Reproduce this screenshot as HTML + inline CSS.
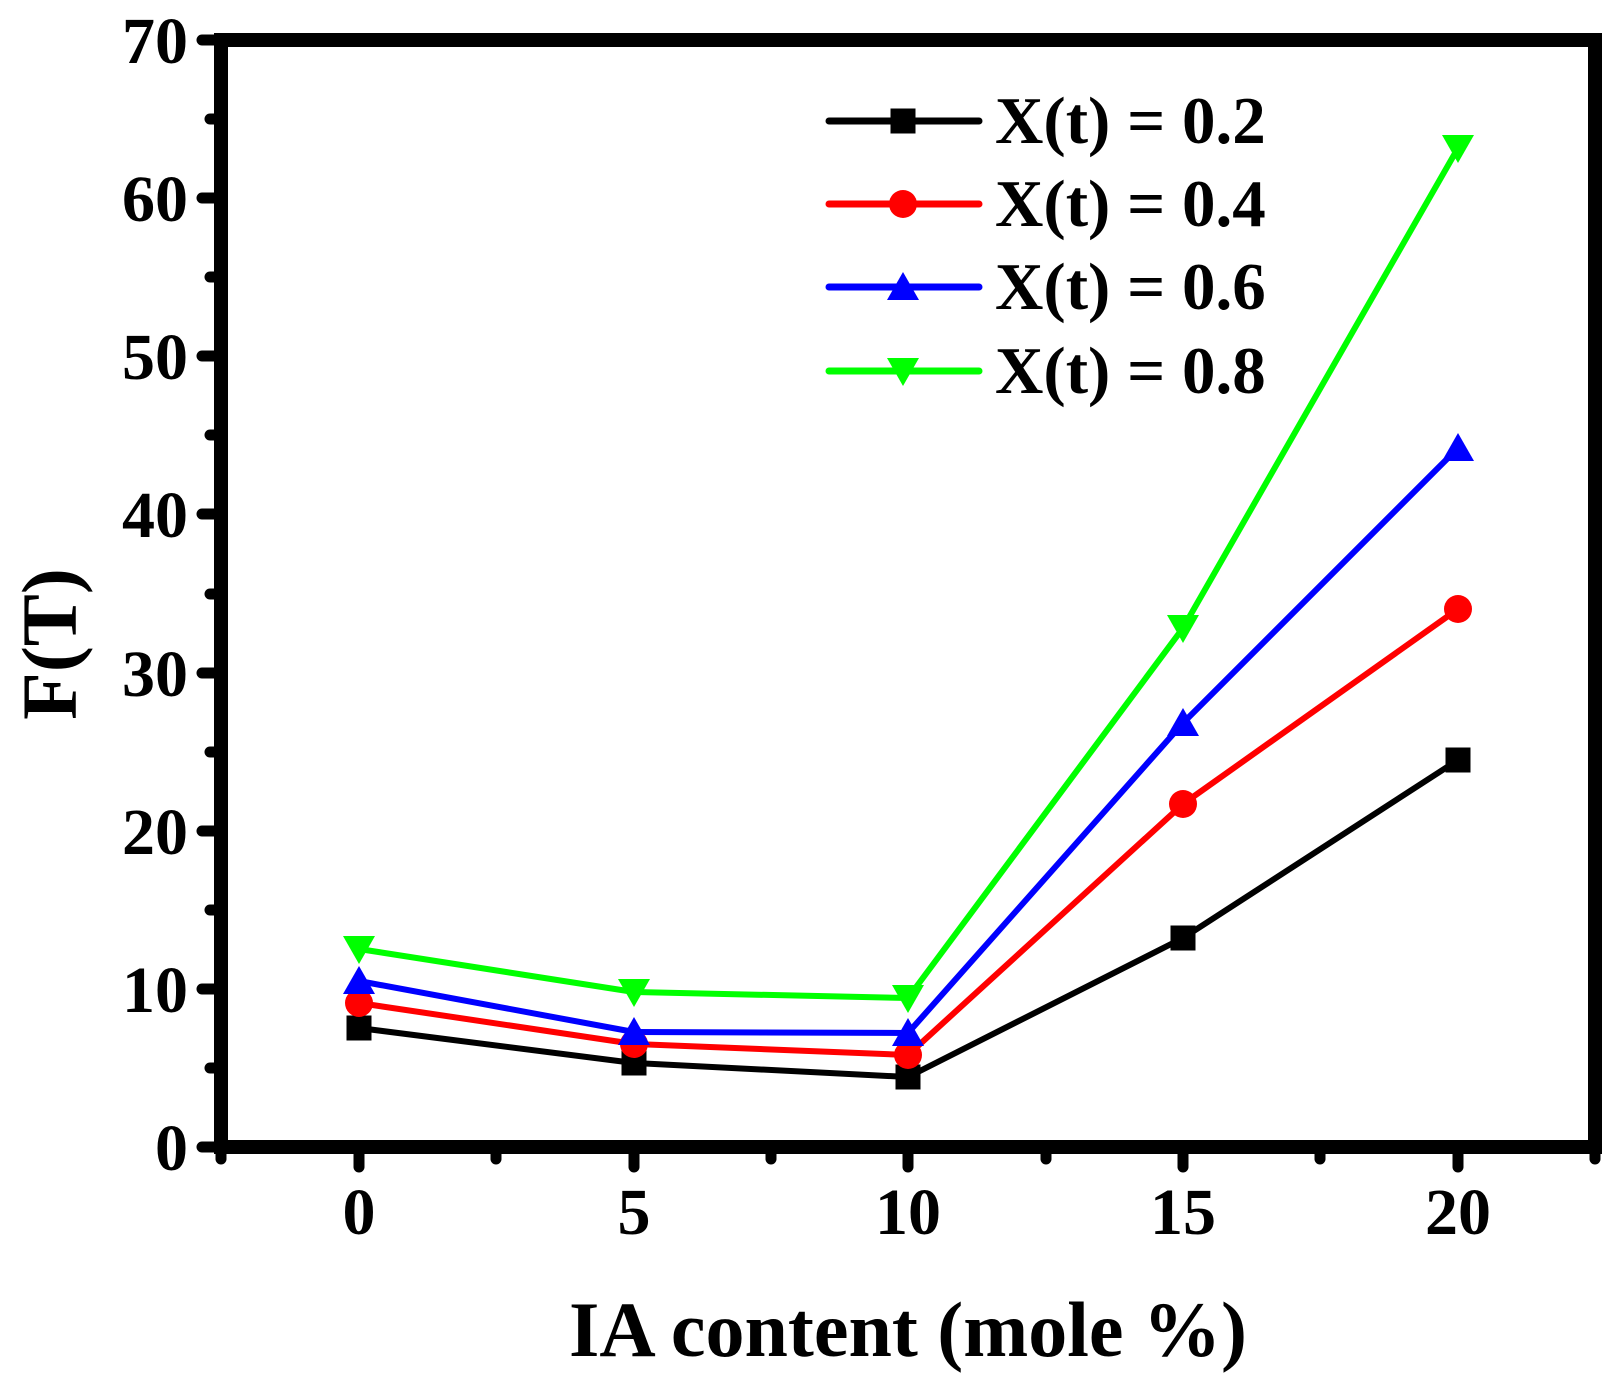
<!DOCTYPE html>
<html><head><meta charset="utf-8"><style>html,body{margin:0;padding:0;background:#fff}</style></head>
<body>
<svg width="1617" height="1394" viewBox="0 0 1617 1394" xmlns="http://www.w3.org/2000/svg" font-family="Liberation Serif, serif" font-weight="bold">
<defs>
<g id="sq"><rect x="-12.5" y="-12.5" width="25" height="25" fill="#000"/></g>
<g id="ci"><circle r="14" fill="#f00"/></g>
<g id="tu"><polygon points="0,-15 16,13 -16,13" fill="#00f"/></g>
<g id="td"><polygon points="0,15 16,-13 -16,-13" fill="#0f0"/></g>
</defs>
<g stroke="#000" stroke-width="11" stroke-linecap="round">
<line x1="202" y1="40" x2="221" y2="40"/>
<line x1="202" y1="198" x2="221" y2="198"/>
<line x1="202" y1="356" x2="221" y2="356"/>
<line x1="202" y1="514" x2="221" y2="514"/>
<line x1="202" y1="673" x2="221" y2="673"/>
<line x1="202" y1="831" x2="221" y2="831"/>
<line x1="202" y1="989" x2="221" y2="989"/>
<line x1="202" y1="1147" x2="221" y2="1147"/>
<line x1="210" y1="119" x2="221" y2="119"/>
<line x1="210" y1="277" x2="221" y2="277"/>
<line x1="210" y1="435" x2="221" y2="435"/>
<line x1="210" y1="594" x2="221" y2="594"/>
<line x1="210" y1="752" x2="221" y2="752"/>
<line x1="210" y1="910" x2="221" y2="910"/>
<line x1="210" y1="1068" x2="221" y2="1068"/>
<line x1="359" y1="1147" x2="359" y2="1167"/>
<line x1="634" y1="1147" x2="634" y2="1167"/>
<line x1="908" y1="1147" x2="908" y2="1167"/>
<line x1="1183" y1="1147" x2="1183" y2="1167"/>
<line x1="1458" y1="1147" x2="1458" y2="1167"/>
<line x1="221" y1="1147" x2="221" y2="1159"/>
<line x1="496" y1="1147" x2="496" y2="1159"/>
<line x1="771" y1="1147" x2="771" y2="1159"/>
<line x1="1046" y1="1147" x2="1046" y2="1159"/>
<line x1="1320" y1="1147" x2="1320" y2="1159"/>
<line x1="1595" y1="1147" x2="1595" y2="1159"/>
</g>
<rect x="221" y="40" width="1374" height="1107" fill="none" stroke="#000" stroke-width="14"/>
<g font-size="66" text-anchor="end">
<text x="188" y="63">70</text><text x="188" y="221">60</text><text x="188" y="379">50</text>
<text x="188" y="537">40</text><text x="188" y="696">30</text><text x="188" y="854">20</text>
<text x="188" y="1012">10</text><text x="188" y="1170">0</text>
</g>
<g font-size="66" text-anchor="middle">
<text x="359" y="1234">0</text><text x="634" y="1234">5</text><text x="908" y="1234">10</text>
<text x="1183" y="1234">15</text><text x="1458" y="1234">20</text>
</g>
<text x="908" y="1356" font-size="78" text-anchor="middle">IA content (mole %)</text>
<text transform="translate(76,644) rotate(-90)" font-size="78" text-anchor="middle">F(T)</text>
<g fill="none" stroke-width="6" stroke-linejoin="round">
<polyline stroke="#000" points="359,1028 634,1063 908,1077 1183,938 1458,760"/>
<polyline stroke="#f00" points="359,1003 634,1044 908,1055 1183,804 1458,609"/>
<polyline stroke="#00f" points="359,981 634,1032 908,1033 1183,723 1458,448"/>
<polyline stroke="#0f0" points="359,949 634,992 908,998 1183,628 1458,148"/>
</g>
<use href="#sq" x="359" y="1028"/><use href="#sq" x="634" y="1063"/><use href="#sq" x="908" y="1077"/><use href="#sq" x="1183" y="938"/><use href="#sq" x="1458" y="760"/>
<use href="#ci" x="359" y="1003"/><use href="#ci" x="634" y="1044"/><use href="#ci" x="908" y="1055"/><use href="#ci" x="1183" y="804"/><use href="#ci" x="1458" y="609"/>
<use href="#tu" x="359" y="981"/><use href="#tu" x="634" y="1032"/><use href="#tu" x="908" y="1033"/><use href="#tu" x="1183" y="723"/><use href="#tu" x="1458" y="448"/>
<use href="#td" x="359" y="949"/><use href="#td" x="634" y="992"/><use href="#td" x="908" y="998"/><use href="#td" x="1183" y="628"/><use href="#td" x="1458" y="148"/>
<g stroke-width="7" stroke-linecap="round">
<line x1="829" y1="121" x2="979" y2="121" stroke="#000"/>
<line x1="829" y1="204" x2="979" y2="204" stroke="#f00"/>
<line x1="829" y1="287" x2="979" y2="287" stroke="#00f"/>
<line x1="829" y1="371" x2="979" y2="371" stroke="#0f0"/>
</g>
<use href="#sq" x="903" y="121"/><use href="#ci" x="903" y="204"/><use href="#tu" x="903" y="287"/><use href="#td" x="903" y="371"/>
<g font-size="67">
<text x="995" y="143">X(t) = 0.2</text>
<text x="995" y="226">X(t) = 0.4</text>
<text x="995" y="309">X(t) = 0.6</text>
<text x="995" y="393">X(t) = 0.8</text>
</g>
</svg>
</body></html>
